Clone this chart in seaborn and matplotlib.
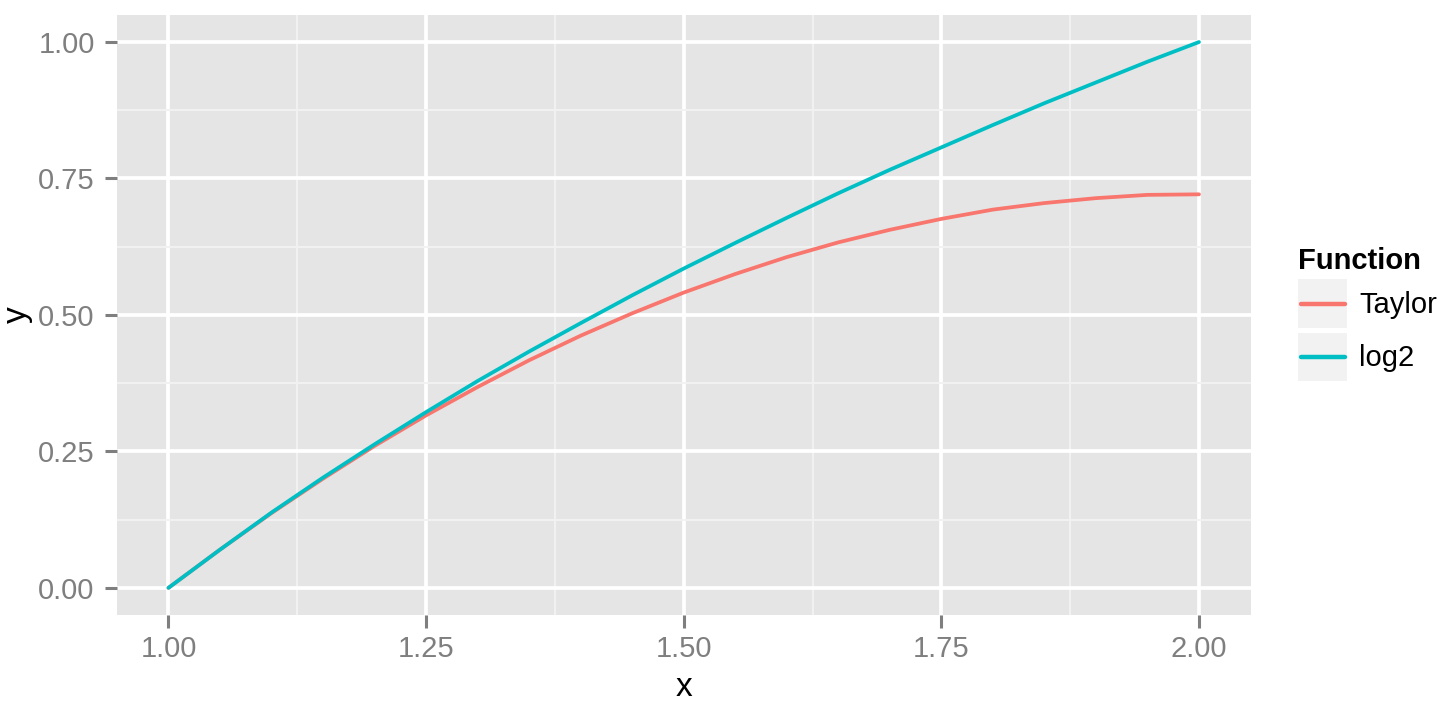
import numpy as np
import pandas as pd
import matplotlib
matplotlib.use("Agg")
import matplotlib.pyplot as plt
import seaborn as sns
from matplotlib.patches import Rectangle
from matplotlib.lines import Line2D
from matplotlib.legend_handler import HandlerBase

# values
x = [1.00, 1.05, 1.10, 1.15, 1.20, 1.25, 1.30, 1.35, 1.40, 1.45, 1.50,
     1.55, 1.60, 1.65, 1.70, 1.75, 1.80, 1.85, 1.90, 1.95, 2.00]
taylor = [0.000, 0.070, 0.137, 0.200, 0.260, 0.316, 0.368, 0.417, 0.462, 0.503, 0.541,
          0.575, 0.606, 0.633, 0.656, 0.676, 0.693, 0.705, 0.714, 0.720, 0.721]
log2 = [0.000, 0.070, 0.138, 0.202, 0.263, 0.322, 0.379, 0.433, 0.485, 0.536, 0.585,
        0.632, 0.678, 0.723, 0.766, 0.807, 0.848, 0.888, 0.926, 0.964, 1.000]
functions = ["Taylor", "log2"]
colors = ["#F8766D", "#00BFC4"]

df = pd.DataFrame({
    "x": x + x,
    "y": taylor + log2,
    "Function": ["Taylor"] * len(x) + ["log2"] * len(x),
})


# ggplot-like legend key: grey square with a line through the middle
class KeyHandler(HandlerBase):
    def create_artists(self, legend, orig_handle, xdescent, ydescent,
                       width, height, fontsize, trans):
        box = Rectangle((-xdescent, -ydescent), width, height,
                        facecolor="#F2F2F2", edgecolor="none", transform=trans)
        ymid = -ydescent + height / 2
        line = Line2D([-xdescent + 2, -xdescent + width - 2], [ymid, ymid],
                      color=orig_handle.get_color(), linewidth=3.2, transform=trans)
        return [box, line]


sns.set_style("white")
plt.rcParams["font.family"] = ["Liberation Sans", "DejaVu Sans"]
plt.rcParams["text.color"] = "black"

fig = plt.figure(figsize=(14.44, 7.03), dpi=100)
ax = fig.add_axes([0.081, 0.125, 0.785, 0.854])
ax.set_facecolor("#E5E5E5")

sns.lineplot(data=df, x="x", y="y", hue="Function", hue_order=functions,
             palette=colors, linewidth=2.7, ax=ax, legend=False, zorder=3)

ax.set_xlim(0.95, 2.05)
ax.set_ylim(-0.05, 1.05)
ax.set_xticks([1.00, 1.25, 1.50, 1.75, 2.00])
ax.set_yticks([0.00, 0.25, 0.50, 0.75, 1.00])
ax.set_xticklabels(["1.00", "1.25", "1.50", "1.75", "2.00"])
ax.set_yticklabels(["0.00", "0.25", "0.50", "0.75", "1.00"])
ax.set_xticks([1.125, 1.375, 1.625, 1.875], minor=True)
ax.set_yticks([0.125, 0.375, 0.625, 0.875], minor=True)

ax.grid(which="major", color="white", linewidth=2.7)
ax.grid(which="minor", color="#F2F2F2", linewidth=1.4)
ax.set_axisbelow(True)
for s in ax.spines.values():
    s.set_visible(False)

ax.tick_params(which="major", bottom=True, left=True, length=9, width=2.2,
               color="#7F7F7F", labelsize=21, labelcolor="#7F7F7F", pad=5)
ax.tick_params(which="minor", length=0)
ax.tick_params(axis="y", pad=7)

ax.set_xlabel("x", fontsize=24, color="black", labelpad=7)
ax.set_ylabel("y", fontsize=24, color="black", labelpad=4)

handles = [Line2D([], [], color=c) for c in colors]
leg = fig.legend(handles, functions, title="Function", loc="center left",
                 bbox_to_anchor=(0.889, 0.553), frameon=False, fontsize=21,
                 title_fontproperties={"weight": "bold", "size": 21},
                 handlelength=1.68, handleheight=2.2, handletextpad=0.4,
                 labelspacing=0.15, borderpad=0, alignment="left",
                 handler_map={Line2D: KeyHandler()})
for t in leg.get_texts():
    t.set_color("black")
leg.get_title().set_color("black")

fig.savefig("out.png", dpi=100)
